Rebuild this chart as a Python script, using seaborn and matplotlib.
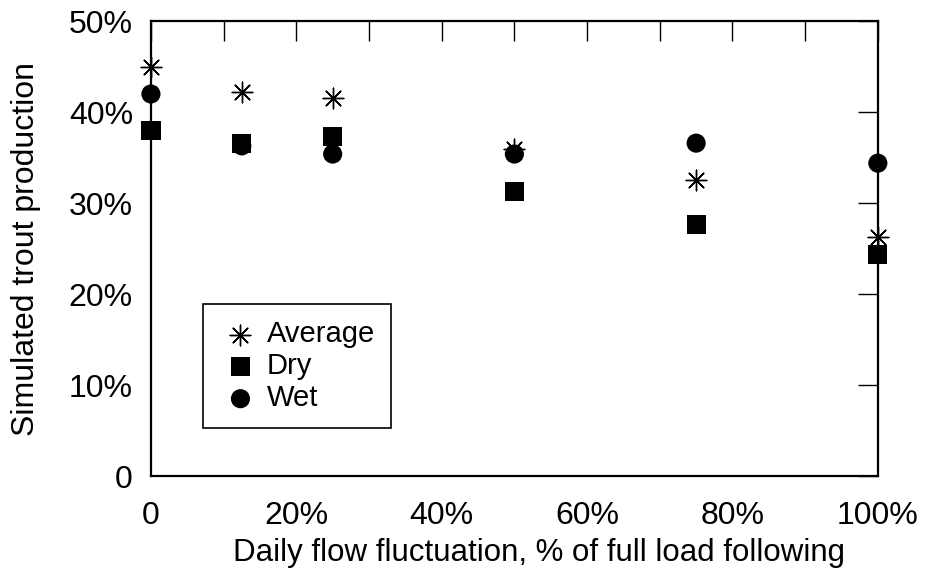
import pandas as pd
import matplotlib
matplotlib.use("Agg")
import matplotlib.pyplot as plt
import seaborn as sns

# Daily flow fluctuation (% of full load following)
fluctuation = [0, 12.5, 25, 50, 75, 100]
# Simulated trout production (%) per water year
average = [45.0, 42.2, 41.6, 36.0, 32.5, 26.3]
dry = [38.0, 36.6, 37.3, 31.3, 27.7, 24.4]
wet = [42.0, 36.3, 35.4, 35.4, 36.6, 34.4]

x_ticks = [0, 10, 20, 30, 40, 50, 60, 70, 80, 90, 100]
x_labels = ["0", "", "20%", "", "40%", "", "60%", "", "80%", "", "100%"]
y_ticks = [0, 10, 20, 30, 40, 50]
y_labels = ["0", "10%", "20%", "30%", "40%", "50%"]


def plot_trout_production():
    sns.set_style("white")
    plt.rcParams["font.family"] = ["Liberation Sans", "DejaVu Sans"]
    plt.rcParams["text.color"] = "black"
    plt.rcParams["axes.labelcolor"] = "black"
    plt.rcParams["xtick.color"] = "black"
    plt.rcParams["ytick.color"] = "black"

    fig = plt.figure(figsize=(9.26, 5.73), dpi=100)
    ax = fig.add_axes([0.163, 0.169, 0.785, 0.794])

    series = [
        ("Average", average, (8, 2, 0)),
        ("Dry", dry, "s"),
        ("Wet", wet, "o"),
    ]
    for name, values, marker in series:
        df = pd.DataFrame({"x": fluctuation, "y": values})
        if marker == (8, 2, 0):
            sns.scatterplot(data=df, x="x", y="y", marker=marker, s=220,
                            color="black", linewidth=1.0, label=name,
                            ax=ax, clip_on=False, zorder=3)
        else:
            sns.scatterplot(data=df, x="x", y="y", marker=marker, s=190,
                            color="black", edgecolor="none", label=name,
                            ax=ax, clip_on=False, zorder=3)

    ax.set_xlim(0, 100)
    ax.set_ylim(0, 50)
    ax.set_xticks(x_ticks)
    ax.set_xticklabels(x_labels)
    ax.set_yticks(y_ticks)
    ax.set_yticklabels(y_labels)
    ax.tick_params(direction="in", length=14.5, width=1.0, top=True,
                   right=True, labelsize=23, color="black")
    ax.tick_params(axis="x", pad=18)
    ax.tick_params(axis="y", pad=13)
    for spine in ax.spines.values():
        spine.set_linewidth(1.6)
        spine.set_color("black")

    ax.set_xlabel("Daily flow fluctuation, % of full load following",
                  fontsize=22.5)
    ax.xaxis.set_label_coords(0.534, -0.135)
    ax.set_ylabel("Simulated trout production", fontsize=23, labelpad=20)

    leg = ax.legend(loc="lower left", bbox_to_anchor=(0.072, 0.105),
                    borderaxespad=0, fancybox=False, framealpha=1,
                    edgecolor="black", fontsize=21, handletextpad=0.17,
                    borderpad=0.55, labelspacing=0.14, markerscale=1.0,
                    handlelength=1.45)
    leg.get_frame().set_linewidth(1.2)

    plt.savefig("out.png", dpi=100)


if __name__ == "__main__":
    plot_trout_production()
